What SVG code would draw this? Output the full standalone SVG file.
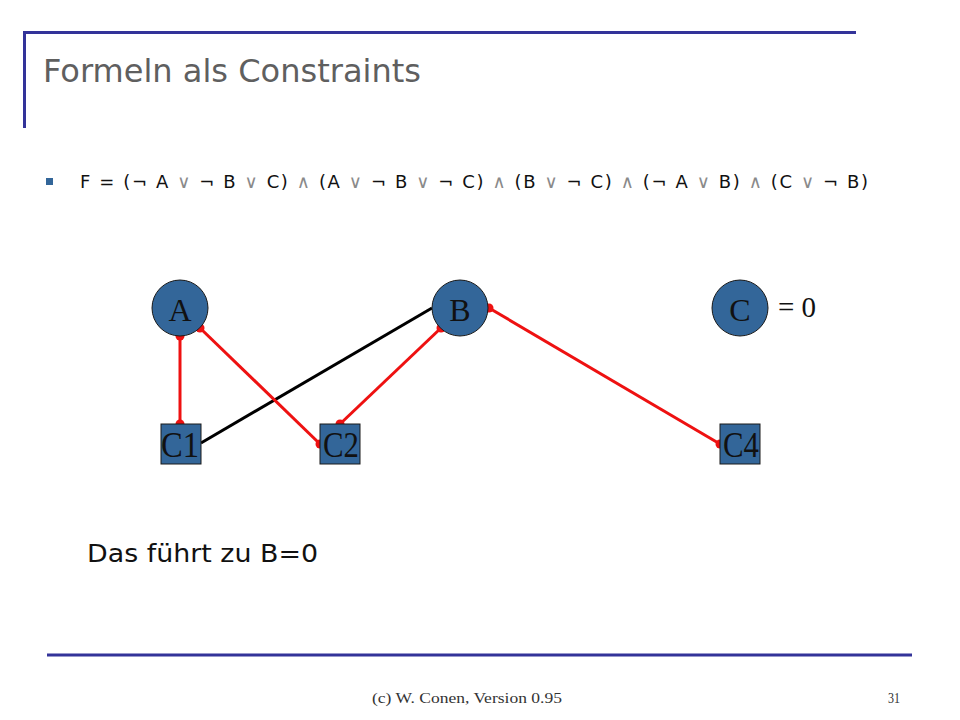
<svg xmlns="http://www.w3.org/2000/svg" width="960" height="720" viewBox="0 0 960 720">
<style>
.frame{stroke:#333399;stroke-width:3;fill:none}
.circ{fill:#336699;stroke:#1a1a1a;stroke-width:1}
.sq{fill:#336699;stroke:#1a1a1a;stroke-width:1}
.lbl{font-family:"Liberation Serif","Times New Roman",serif;fill:#111;text-anchor:middle}
.red{stroke:#ee1111;stroke-width:3;fill:none}
.blk{stroke:#000;stroke-width:3;fill:none}
.dot{fill:#ee1111}
.sans{font-family:"DejaVu Sans",Verdana,sans-serif}
.op{fill:#8a8a8a}
</style>
<rect width="960" height="720" fill="#fff"/>
<path class="frame" d="M23 32.5H856M24.5 32V128"/>
<text class="sans" x="43" y="82" font-size="32" fill="#5f5f5f" textLength="378" lengthAdjust="spacingAndGlyphs">Formeln als Constraints</text>
<rect x="46" y="178" width="7" height="7" fill="#336699"/>
<text class="sans" x="80" y="188" font-size="18" fill="#111" textLength="788" lengthAdjust="spacing">F = (¬ A <tspan class="op">∨</tspan> ¬ B <tspan class="op">∨</tspan> C) <tspan class="op">∧</tspan> (A <tspan class="op">∨</tspan> ¬ B <tspan class="op">∨</tspan> ¬ C) <tspan class="op">∧</tspan> (B <tspan class="op">∨</tspan> ¬ C) <tspan class="op">∧</tspan> (¬ A <tspan class="op">∨</tspan> B) <tspan class="op">∧</tspan> (C <tspan class="op">∨</tspan> ¬ B)</text>
<g id="connectors">
<line class="blk" x1="201" y1="443" x2="432" y2="308"/>
<line class="red" x1="180" y1="336" x2="180" y2="424"/>
<line class="red" x1="200" y1="328" x2="320" y2="444"/>
<line class="red" x1="441" y1="328" x2="340" y2="424"/>
<line class="red" x1="489" y1="308" x2="720" y2="444"/>
<circle class="dot" cx="180" cy="336" r="4.5"/>
<circle class="dot" cx="180" cy="424" r="4.5"/>
<circle class="dot" cx="200" cy="328" r="4.5"/>
<circle class="dot" cx="320" cy="444" r="4.5"/>
<circle class="dot" cx="441" cy="328" r="4.5"/>
<circle class="dot" cx="340" cy="424" r="4.5"/>
<circle class="dot" cx="489" cy="308" r="4.5"/>
<circle class="dot" cx="720" cy="444" r="4.5"/>
</g>
<g id="nodeA"><circle class="circ" cx="180" cy="308" r="28"/><text class="lbl" x="180" y="321" font-size="32">A</text></g>
<g id="nodeB"><circle class="circ" cx="460" cy="308" r="28"/><text class="lbl" x="460" y="321" font-size="32">B</text></g>
<g id="nodeC"><circle class="circ" cx="740" cy="308" r="28"/><text class="lbl" x="740" y="321" font-size="32">C</text></g>
<text x="778" y="317" font-family="Liberation Serif,serif" font-size="29" fill="#111">= 0</text>
<g id="nodeC1"><rect class="sq" x="161" y="424" width="40" height="40"/><text class="lbl" x="180" y="457" font-size="35" textLength="38" lengthAdjust="spacingAndGlyphs">C1</text></g>
<g id="nodeC2"><rect class="sq" x="320" y="424" width="40" height="40"/><text class="lbl" x="341" y="457" font-size="35" textLength="36" lengthAdjust="spacingAndGlyphs">C2</text></g>
<g id="nodeC4"><rect class="sq" x="720" y="424" width="40" height="40"/><text class="lbl" x="741" y="457" font-size="35" textLength="36" lengthAdjust="spacingAndGlyphs">C4</text></g>
<text class="sans" x="87" y="562" font-size="25" fill="#111" textLength="231" lengthAdjust="spacingAndGlyphs">Das führt zu B=0</text>
<line x1="47" y1="655" x2="912" y2="655" stroke="#333399" stroke-width="3"/>
<text x="372" y="703" font-family="Liberation Serif,serif" font-size="15" fill="#333" textLength="190" lengthAdjust="spacingAndGlyphs">(c) W. Conen, Version 0.95</text>
<text x="888" y="703" font-family="Liberation Serif,serif" font-size="15" fill="#333" textLength="12" lengthAdjust="spacingAndGlyphs">31</text>
</svg>
